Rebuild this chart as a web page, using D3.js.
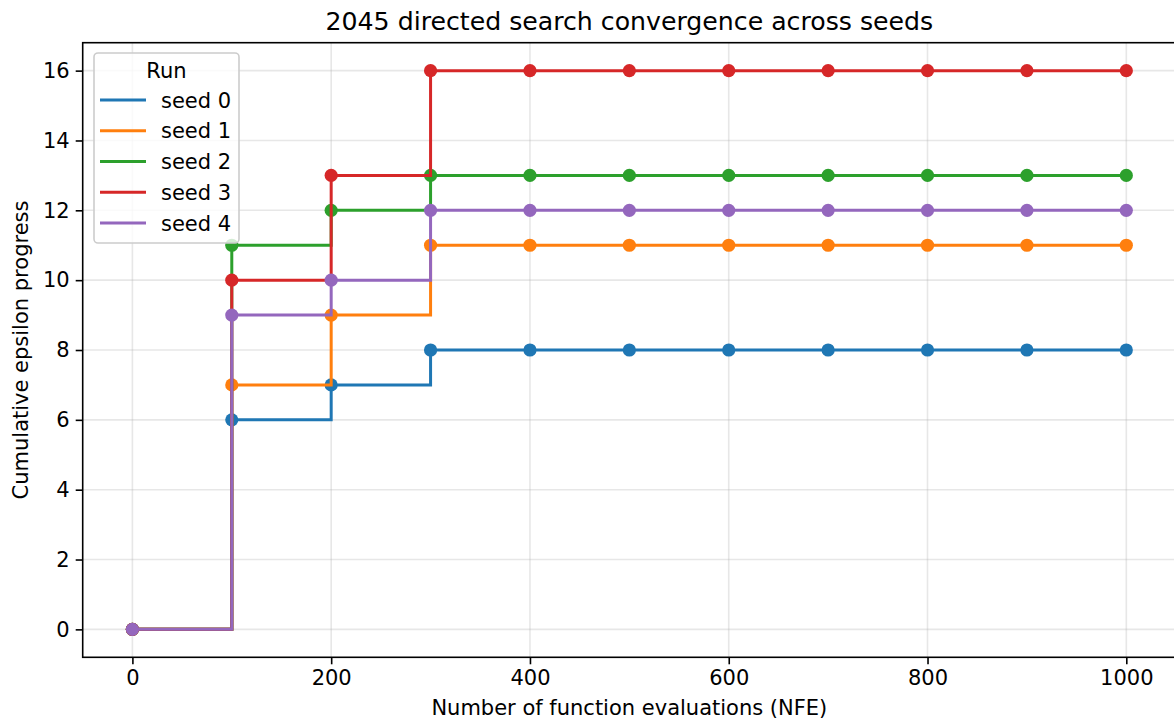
<!DOCTYPE html>
<html>
<head>
<meta charset="utf-8">
<script src="https://cdn.jsdelivr.net/npm/d3@7"></script>
<style>
  body { margin: 0; background: #fff; }
  svg { display: block; font-family: "DejaVu Sans", sans-serif; }
</style>
</head>
<body>
<div id="chart"></div>
<script>
// step chart of cumulative epsilon progress per seed

var nfe = [0, 100, 200, 300, 400, 500, 600, 700, 800, 900, 1000];
var seedNames = ["seed 0", "seed 1", "seed 2", "seed 3", "seed 4"];
var seed0 = [0, 6, 7, 8, 8, 8, 8, 8, 8, 8, 8];
var seed1 = [0, 7, 9, 11, 11, 11, 11, 11, 11, 11, 11];
var seed2 = [0, 11, 12, 13, 13, 13, 13, 13, 13, 13, 13];
var seed3 = [0, 10, 13, 16, 16, 16, 16, 16, 16, 16, 16];
var seed4 = [0, 9, 10, 12, 12, 12, 12, 12, 12, 12, 12];
var xTicks = [0, 200, 400, 600, 800, 1000];
var yTicks = [0, 2, 4, 6, 8, 10, 12, 14, 16];
var colors = ["#1f77b4", "#ff7f0e", "#2ca02c", "#d62728", "#9467bd"];

var allSeeds = [seed0, seed1, seed2, seed3, seed4];

var width = 1174, height = 727;
var margin = {top: 42.7, right: -2, bottom: 69.7, left: 82.7};
var fs = 21;

var svg = d3.select("#chart")
    .append("svg")
    .attr("width", width)
    .attr("height", height);

var xScale = d3.scaleLinear()
    .domain([-50, 1050])
    .range([margin.left, width - margin.right]);
var yScale = d3.scaleLinear()
    .domain([-0.8, 16.8])
    .range([height - margin.bottom, margin.top]);

// grid
var grid = svg.append("g");
grid.selectAll(".gx")
    .data(xTicks)
    .join("line")
    .attr("x1", d => xScale(d)).attr("x2", d => xScale(d))
    .attr("y1", yScale.range()[0]).attr("y2", yScale.range()[1])
    .attr("stroke", "#b0b0b0").attr("stroke-opacity", 0.3).attr("stroke-width", 1.6);
grid.selectAll(".gy")
    .data(yTicks)
    .join("line")
    .attr("y1", d => yScale(d)).attr("y2", d => yScale(d))
    .attr("x1", xScale.range()[0]).attr("x2", xScale.range()[1])
    .attr("stroke", "#b0b0b0").attr("stroke-opacity", 0.3).attr("stroke-width", 1.6);

// series
var line = d3.line()
    .x(d => xScale(d[0]))
    .y(d => yScale(d[1]))
    .curve(d3.curveStepAfter);

allSeeds.forEach(function(vals, i) {
    var pts = nfe.map((x, j) => [x, vals[j]]);
    var g = svg.append("g");
    g.append("path")
        .datum(pts)
        .attr("d", line)
        .attr("fill", "none")
        .attr("stroke", colors[i])
        .attr("stroke-width", 3)
        .attr("stroke-linejoin", "miter");
    g.selectAll("circle")
        .data(pts)
        .join("circle")
        .attr("cx", d => xScale(d[0]))
        .attr("cy", d => yScale(d[1]))
        .attr("r", 6.6)
        .attr("fill", colors[i]);
});

// axes
function xAxis(g) {
    g.call(d3.axisBottom(xScale).tickValues(xTicks).tickSize(7).tickPadding(6).tickFormat(d3.format("d")));
}
function yAxis(g) {
    g.call(d3.axisLeft(yScale).tickValues(yTicks).tickSize(7).tickPadding(6).tickFormat(d3.format("d")));
}

var gx = svg.append("g")
    .attr("transform", `translate(0, ${height - margin.bottom})`)
    .call(xAxis);
var gy = svg.append("g")
    .attr("transform", `translate(${margin.left}, 0)`)
    .call(yAxis);

[gx, gy].forEach(function(g) {
    g.selectAll("text").attr("font-size", fs).attr("font-family", "DejaVu Sans").attr("fill", "#000");
    g.selectAll("line").attr("stroke-width", 1.6).attr("stroke", "#000");
    g.select(".domain").remove();
});

// spines
svg.append("rect")
    .attr("x", margin.left)
    .attr("y", margin.top)
    .attr("width", xScale.range()[1] - margin.left)
    .attr("height", yScale.range()[0] - margin.top)
    .attr("fill", "none")
    .attr("stroke", "#000")
    .attr("stroke-width", 1.6);

// titles
svg.append("text")
    .attr("x", (xScale.range()[0] + xScale.range()[1]) / 2)
    .attr("y", 30)
    .attr("text-anchor", "middle")
    .attr("font-size", 25.2)
    .text("2045 directed search convergence across seeds");

svg.append("text")
    .attr("x", (xScale.range()[0] + xScale.range()[1]) / 2)
    .attr("y", 715)
    .attr("text-anchor", "middle")
    .attr("font-size", fs)
    .text("Number of function evaluations (NFE)");

svg.append("text")
    .attr("transform", `translate(28, ${(yScale.range()[0] + yScale.range()[1]) / 2}) rotate(-90)`)
    .attr("text-anchor", "middle")
    .attr("font-size", fs)
    .text("Cumulative epsilon progress");

// legend
var legend = svg.append("g");
legend.append("rect")
    .attr("x", 94).attr("y", 53)
    .attr("width", 145).attr("height", 190)
    .attr("rx", 4)
    .attr("fill", "#fff").attr("fill-opacity", 0.8)
    .attr("stroke", "#cccccc").attr("stroke-width", 1.6);
legend.append("text")
    .attr("x", 166.5).attr("y", 77.5)
    .attr("text-anchor", "middle")
    .attr("font-size", fs)
    .text("Run");
var items = legend.selectAll(".item")
    .data(seedNames)
    .join("g")
    .attr("transform", (d, i) => `translate(0, ${100 + i * 30.75})`);
items.append("line")
    .attr("x1", 100).attr("x2", 146)
    .attr("stroke", (d, i) => colors[i])
    .attr("stroke-width", 3);
items.append("text")
    .attr("x", 161).attr("y", 7.5)
    .attr("font-size", fs)
    .text(d => d);
</script>
</body>
</html>
